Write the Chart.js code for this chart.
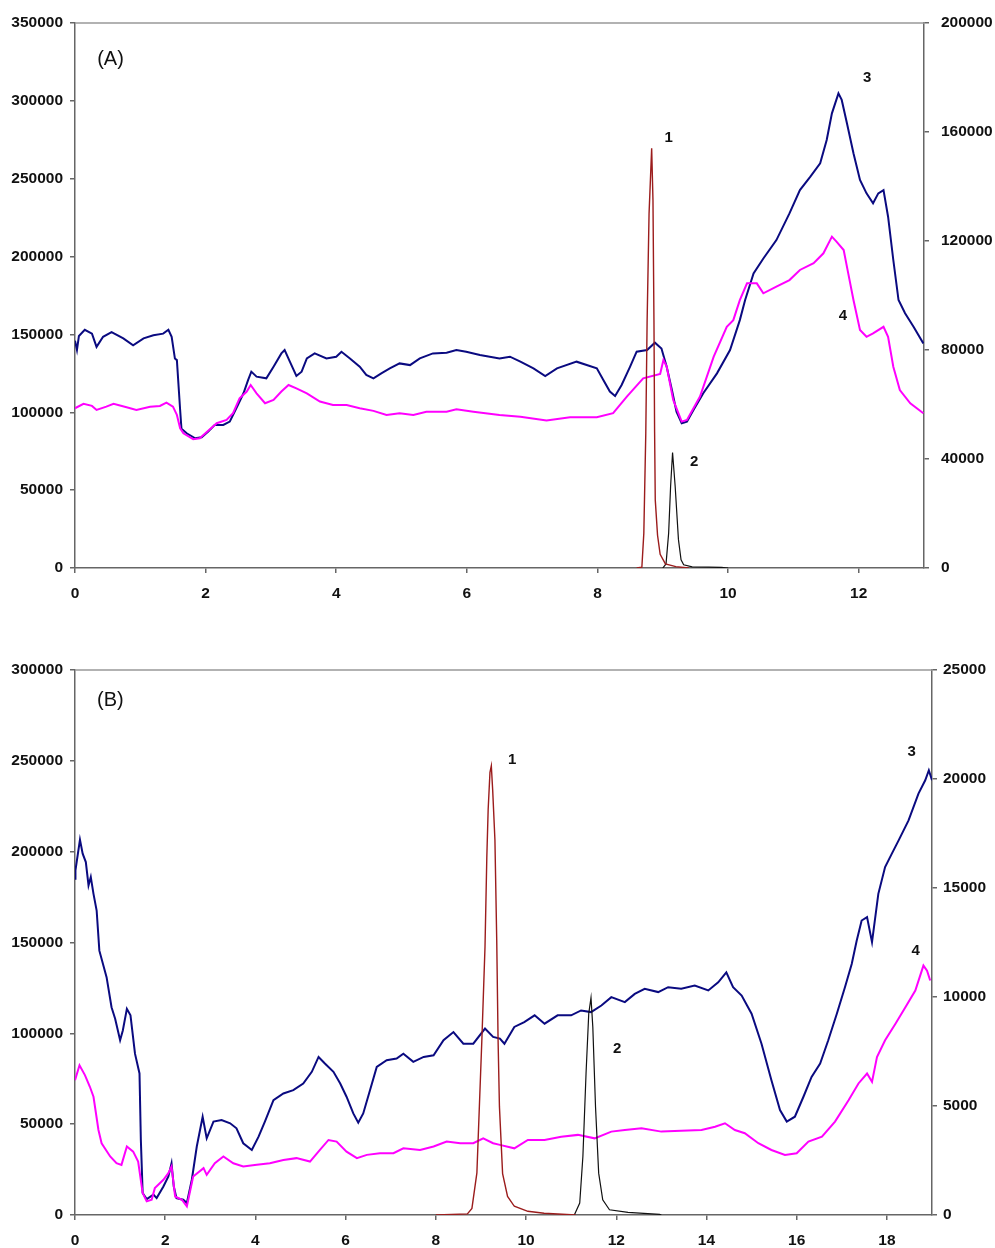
<!DOCTYPE html>
<html>
<head>
<meta charset="utf-8">
<script src="https://cdn.jsdelivr.net/npm/chart.js@4.4.1/dist/chart.umd.min.js"></script>
<style>
  body { margin: 0; background: #fff; overflow: hidden; }
  .box { position: absolute; left: 0; width: 995px; }
  #boxA { top: 0; height: 615px; }
  #boxB { top: 640px; height: 618px; }
</style>
</head>
<body>
<div class="box" id="boxA"><canvas id="chartA"></canvas></div>
<div class="box" id="boxB"><canvas id="chartB"></canvas></div>
<script>
// (A) traces 3 and 4 on the left axis, peaks 1 and 2 on the right axis
const aTrace3 = [[0,146000],[0.03,140000],[0.06,149000],[0.15,153000],[0.26,150500],[0.33,142000],[0.43,148500],[0.56,151500],[0.74,147500],[0.89,143000],[1.05,147500],[1.2,149500],[1.35,150500],[1.43,153000],[1.48,148500],[1.53,134500],[1.56,133500],[1.61,101500],[1.63,89500],[1.71,86500],[1.84,83300],[1.94,84000],[2.04,87600],[2.14,91900],[2.27,91900],[2.37,94000],[2.47,102600],[2.58,112200],[2.65,120700],[2.7,126100],[2.78,122900],[2.93,121800],[3.04,129300],[3.16,137800],[3.21,140000],[3.29,132500],[3.39,123300],[3.47,126100],[3.55,134600],[3.67,137800],[3.85,134600],[4.0,135700],[4.08,138900],[4.21,134600],[4.36,129300],[4.46,124000],[4.57,121800],[4.69,125000],[4.82,128200],[4.97,131400],[5.13,130300],[5.28,134600],[5.48,137800],[5.69,138300],[5.84,140000],[5.99,138900],[6.2,136800],[6.5,134600],[6.66,135700],[6.82,132500],[7.02,128200],[7.2,123300],[7.38,128200],[7.68,132500],[7.99,128200],[8.09,120700],[8.19,113300],[8.27,110500],[8.37,117500],[8.5,129300],[8.6,138900],[8.76,140000],[8.88,144700],[8.98,141000],[9.06,129300],[9.14,114300],[9.21,100400],[9.29,93000],[9.37,94000],[9.47,101500],[9.62,112200],[9.83,125000],[10.03,140000],[10.18,159200],[10.26,172000],[10.39,189200],[10.54,198800],[10.74,210600],[10.94,227700],[11.1,242700],[11.26,251300],[11.41,259900],[11.51,274900],[11.59,292000],[11.69,304800],[11.74,300600],[11.82,285600],[11.92,266300],[12.02,249200],[12.12,240600],[12.22,234200],[12.3,240600],[12.38,242700],[12.45,225600],[12.53,197800],[12.61,172100],[12.71,163600],[12.84,154900],[12.99,144200]];
const aTrace4 = [[0,102600],[0.13,105400],[0.26,104100],[0.33,101500],[0.48,103600],[0.59,105400],[0.79,103200],[0.94,101500],[1.15,103600],[1.3,104100],[1.4,106200],[1.5,103600],[1.56,98300],[1.61,89700],[1.66,86500],[1.81,82700],[1.91,83300],[2.04,88200],[2.17,93000],[2.32,95100],[2.42,99400],[2.52,109000],[2.63,113300],[2.69,117500],[2.78,112200],[2.91,105800],[3.04,107900],[3.16,113300],[3.27,117500],[3.39,115400],[3.55,112200],[3.75,106900],[3.95,104700],[4.16,104700],[4.36,102600],[4.57,100900],[4.77,98300],[4.97,99400],[5.18,98300],[5.38,100400],[5.69,100400],[5.84,101900],[6.1,100400],[6.5,98300],[6.82,97200],[7.22,94700],[7.58,96800],[7.99,96800],[8.24,99400],[8.45,110100],[8.7,121800],[8.96,124600],[9.01,133600],[9.06,129300],[9.16,107900],[9.29,94000],[9.37,95100],[9.57,110100],[9.78,135700],[9.98,154900],[10.08,159200],[10.18,172000],[10.29,182800],[10.44,182800],[10.54,176400],[10.74,180700],[10.94,184900],[11.1,191400],[11.31,195700],[11.46,202100],[11.59,212800],[11.66,209600],[11.77,204200],[11.84,189200],[11.92,172100],[12.02,152800],[12.12,148500],[12.22,150700],[12.38,154900],[12.45,148500],[12.53,129300],[12.63,114300],[12.79,105800],[12.99,99400]];
const aPeak1 = [[8.6,0],[8.68,300],[8.71,12800],[8.74,49500],[8.76,90000],[8.79,130000],[8.83,154000],[8.85,135000],[8.865,91000],[8.875,50000],[8.885,25000],[8.92,12000],[8.96,5000],[9.04,1500],[9.2,500],[9.4,0]];
const aPeak2 = [[9.0,0],[9.05,1500],[9.09,12800],[9.12,30000],[9.15,42400],[9.19,29900],[9.24,10400],[9.28,3000],[9.32,1200],[9.45,400],[9.7,300],[9.9,200],[10.0,0]];

// (B)
const bTrace3 = [[0,185100],[0.01,189700],[0.11,206600],[0.17,198900],[0.24,194300],[0.3,181400],[0.35,186000],[0.41,176800],[0.48,167600],[0.54,145500],[0.7,130900],[0.81,114400],[0.89,108000],[1.0,96200],[1.06,101600],[1.15,113500],[1.23,109900],[1.33,88800],[1.43,77900],[1.46,41300],[1.5,12100],[1.59,8800],[1.74,11200],[1.81,9300],[1.96,15700],[2.07,21200],[2.14,28500],[2.19,15700],[2.25,9300],[2.4,8400],[2.48,6600],[2.59,19400],[2.7,37700],[2.83,54100],[2.92,42200],[3.07,51400],[3.25,52300],[3.44,50500],[3.58,47700],[3.73,39500],[3.92,35800],[4.07,43100],[4.21,51400],[4.4,63200],[4.62,66900],[4.84,68700],[5.06,72400],[5.25,78800],[5.4,87000],[5.54,83400],[5.73,78800],[5.88,72400],[6.02,65100],[6.17,55900],[6.28,50800],[6.39,55900],[6.54,68700],[6.69,81500],[6.91,85200],[7.13,86100],[7.28,88800],[7.5,84300],[7.73,87000],[7.95,87900],[8.17,96200],[8.39,100700],[8.61,94300],[8.83,94300],[9.09,102600],[9.27,98000],[9.42,97100],[9.52,94300],[9.74,103500],[9.96,106200],[10.19,109900],[10.41,105300],[10.7,109900],[11.0,109900],[11.22,112600],[11.44,111700],[11.67,115300],[11.89,119900],[12.19,117200],[12.41,121700],[12.63,124500],[12.93,122700],[13.15,125400],[13.44,124500],[13.74,126300],[14.04,123600],[14.26,128100],[14.44,133600],[14.59,125400],[14.78,120800],[15.0,110800],[15.22,94300],[15.44,74200],[15.63,57800],[15.78,51400],[15.96,54100],[16.15,65100],[16.33,76000],[16.52,83400],[16.7,96200],[16.89,110800],[17.07,125400],[17.22,138200],[17.33,151000],[17.44,162100],[17.56,164000],[17.67,150200],[17.81,176800],[17.96,191500],[18.11,198900],[18.26,206200],[18.48,217200],[18.7,232000],[18.85,239300],[18.93,244800],[19.0,239300]];
const bTrace4 = [[0,74200],[0.1,82400],[0.22,77000],[0.33,70600],[0.41,65100],[0.52,46800],[0.59,39500],[0.78,32200],[0.92,28500],[1.03,27600],[1.15,37700],[1.29,34900],[1.4,29400],[1.5,12100],[1.59,7500],[1.7,8400],[1.77,14800],[1.96,19400],[2.07,23000],[2.14,26700],[2.22,10200],[2.37,8400],[2.48,4800],[2.62,21200],[2.85,25800],[2.92,22100],[3.1,28500],[3.29,32200],[3.51,28500],[3.73,26700],[4.03,27600],[4.32,28500],[4.62,30300],[4.91,31300],[5.21,29400],[5.43,35800],[5.62,41300],[5.8,40400],[6.02,34900],[6.25,31300],[6.47,33100],[6.76,34000],[7.06,34000],[7.28,36700],[7.65,35800],[7.95,37700],[8.24,40400],[8.54,39500],[8.83,39500],[9.05,42200],[9.27,39500],[9.42,38600],[9.74,36700],[10.04,41300],[10.41,41300],[10.78,43100],[11.15,44100],[11.52,42200],[11.89,45900],[12.19,46800],[12.56,47700],[13.0,45900],[13.44,46400],[13.89,46800],[14.19,48600],[14.41,50500],[14.63,46800],[14.85,45000],[15.15,39500],[15.44,35800],[15.74,33100],[16.0,34000],[16.26,40400],[16.56,43100],[16.85,51400],[17.15,63200],[17.37,72400],[17.56,77900],[17.67,73300],[17.78,87000],[17.96,96200],[18.19,105300],[18.41,114400],[18.63,123600],[18.81,137300],[18.89,134500],[18.96,129100]];
const bPeak1 = [[8.0,0],[8.7,50],[8.8,300],[8.91,1930],[9.02,8030],[9.09,12300],[9.13,16400],[9.16,18600],[9.2,20300],[9.23,20600],[9.26,19500],[9.31,17200],[9.35,12600],[9.38,8000],[9.41,4970],[9.48,1900],[9.59,850],[9.74,400],[10.04,170],[10.4,80],[11.1,0]];
const bPeak2 = [[11.07,0],[11.19,550],[11.26,2680],[11.33,6490],[11.39,9240],[11.44,9970],[11.48,8630],[11.54,4970],[11.61,1920],[11.7,700],[11.85,240],[12.26,120],[12.96,30],[13.0,0]];

// text labels placed in left-axis data units
const aLabels = [['(A)', 0.34, 326800, false], ['1', 9.09, 276100, true], ['2', 9.48, 68100, true], ['3', 12.13, 314700, true], ['4', 11.76, 161800, true]];
const bLabels = [['(B)', 0.49, 283000, false], ['1', 9.69, 250500, true], ['2', 12.02, 91400, true], ['3', 18.55, 254900, true], ['4', 18.64, 145300, true]];

const fontFamily = '"Liberation Sans", Arial, sans-serif';
const tickFont = { family: fontFamily, size: 15.5, weight: 'bold' };

const pts = arr => arr.map(p => ({ x: p[0], y: p[1] }));

function line(data, color, axis, width) {
  return {
    data: pts(data),
    borderColor: color,
    borderWidth: width,
    yAxisID: axis,
    pointRadius: 0,
    tension: 0,
    fill: false
  };
}

const labelPlugin = {
  id: 'labels',
  afterDraw(chart, args, opts) {
    const ctx = chart.ctx;
    const area = chart.chartArea;
    ctx.save();
    // top frame line
    ctx.strokeStyle = '#999';
    ctx.lineWidth = 1.5;
    ctx.beginPath();
    ctx.moveTo(area.left, area.top);
    ctx.lineTo(area.right, area.top);
    ctx.stroke();
    ctx.fillStyle = '#111';
    ctx.textBaseline = 'middle';
    opts.items.forEach(it => {
      ctx.font = it[3] ? 'bold 15px ' + fontFamily : '20px ' + fontFamily;
      ctx.textAlign = it[3] ? 'center' : 'left';
      ctx.fillText(it[0], chart.scales.x.getPixelForValue(it[1]), chart.scales.y.getPixelForValue(it[2]));
    });
    ctx.restore();
  }
};

function axisCommon() {
  return {
    grid: { drawOnChartArea: false, tickLength: 5, color: '#666', lineWidth: 1.5 },
    border: { color: '#666', width: 1.5 }
  };
}

function makeChart(id, cfg) {
  const x = Object.assign(axisCommon(), {
    type: 'linear', min: 0, max: cfg.xMax,
    afterBuildTicks: s => { s.ticks = s.ticks.filter(t => t.value % 2 === 0); },
    afterFit: s => { s.height = cfg.xHeight; },
    ticks: { stepSize: 2, autoSkip: false, maxRotation: 0, padding: 11, color: '#111', font: tickFont }
  });
  const y = Object.assign(axisCommon(), {
    position: 'left', min: 0, max: cfg.yMax,
    afterFit: s => { s.width = 75; },
    ticks: { stepSize: cfg.yStep, padding: 7, color: '#111', font: tickFont, callback: v => String(v) }
  });
  const y2 = Object.assign(axisCommon(), {
    position: 'right', min: 0, max: cfg.y2Max,
    afterFit: s => { s.width = cfg.y2Width; },
    ticks: { stepSize: cfg.y2Step, padding: cfg.y2Pad, color: '#111', font: tickFont, callback: v => String(v) }
  });

  new Chart(document.getElementById(id), {
    type: 'line',
    data: {
      datasets: [
        line(cfg.peak1, '#9b1c1c', 'y2', 1.4),
        line(cfg.peak2, '#111111', 'y2', 1.2),
        line(cfg.trace4, '#ff00ff', 'y', 2),
        line(cfg.trace3, '#0a0a80', 'y', 2)
      ]
    },
    options: {
      responsive: true,
      maintainAspectRatio: false,
      animation: false,
      layout: { padding: { top: cfg.top, left: 0, right: 0, bottom: 0 } },
      scales: { x: x, y: y, y2: y2 },
      plugins: {
        legend: { display: false },
        tooltip: { enabled: false },
        labels: { items: cfg.labels }
      }
    },
    plugins: [labelPlugin]
  });
}

makeChart('chartA', {
  xMax: 13, xHeight: 47, top: 23,
  yMax: 350000, yStep: 50000,
  y2Max: 200000, y2Step: 40000, y2Width: 71, y2Pad: 12,
  trace3: aTrace3, trace4: aTrace4, peak1: aPeak1, peak2: aPeak2, labels: aLabels
});

makeChart('chartB', {
  xMax: 19, xHeight: 43, top: 30,
  yMax: 300000, yStep: 50000,
  y2Max: 25000, y2Step: 5000, y2Width: 63, y2Pad: 6,
  trace3: bTrace3, trace4: bTrace4, peak1: bPeak1, peak2: bPeak2, labels: bLabels
});
</script>
</body>
</html>
